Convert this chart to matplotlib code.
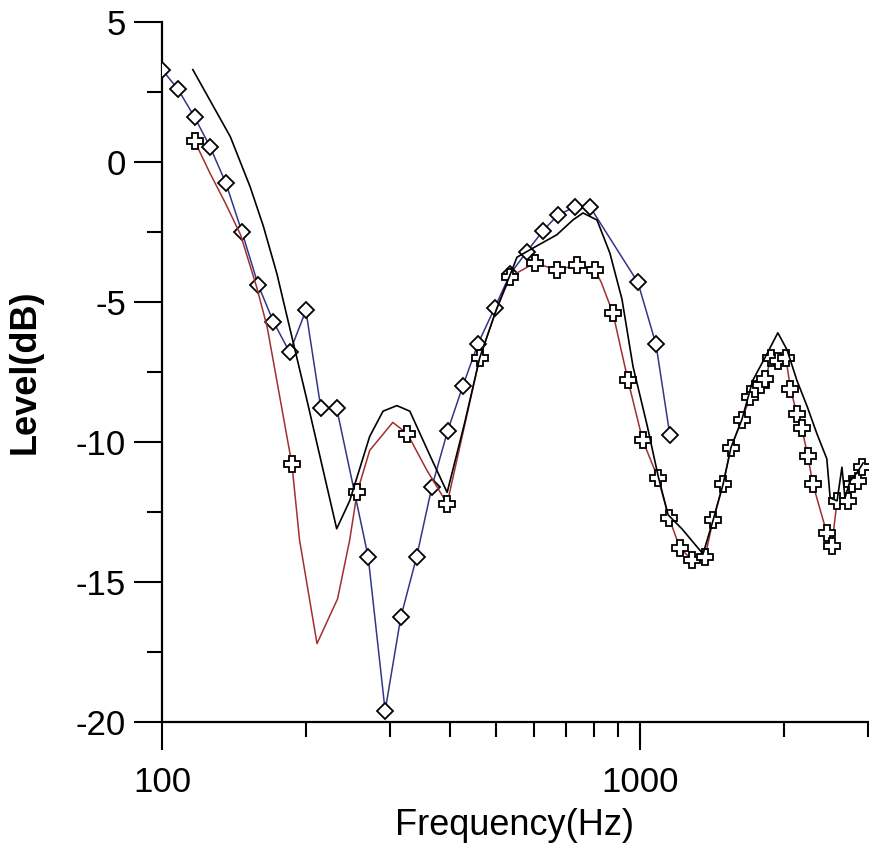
import matplotlib
matplotlib.use("Agg")
import matplotlib.pyplot as plt
from matplotlib.ticker import FixedLocator, NullFormatter

plt.rcParams['font.family'] = ['Liberation Sans', 'DejaVu Sans']

# ---- data ----
blue_f = [100, 108, 117, 126, 136, 147, 159, 171, 185, 200, 215, 232, 270, 293, 316,
          341, 367, 396, 426, 458, 497, 535, 580, 627, 673, 731, 786, 990, 1080, 1155]
blue_db = [3.3, 2.6, 1.6, 0.55, -0.75, -2.5, -4.4, -5.7, -6.8, -5.3, -8.8, -8.8, -14.1, -19.6, -16.25,
           -14.1, -11.6, -9.6, -8.0, -6.5, -5.2, -4.0, -3.2, -2.45, -1.9, -1.6, -1.6, -4.3, -6.5, -9.75]

red_f = [117, 126, 136, 146, 158, 166, 187, 194, 211, 233, 247, 256, 272, 304, 326, 358, 395,
         462, 500, 535, 603, 670, 738, 805, 830, 878, 944, 1013, 1091, 1150, 1213, 1285, 1368,
         1422, 1493, 1550, 1634, 1700, 1741, 1790, 1830, 1880, 1945, 2020, 2065, 2130, 2180,
         2245, 2300, 2460, 2520, 2585, 2725, 2780, 2860, 2913]
red_db = [0.75, -0.4, -1.5, -2.6, -4.5, -5.9, -10.8, -13.5, -17.2, -15.6, -13.5, -11.8, -10.3, -9.3, -9.7, -11.0, -12.2,
          -7.0, -5.3, -4.1, -3.6, -3.86, -3.68, -3.86, -4.3, -5.4, -7.8, -9.93, -11.3, -12.7, -13.8, -14.2, -14.1,
          -12.8, -11.5, -10.2, -9.2, -8.4, -8.1, -7.95, -7.75, -7.0, -7.1, -7.0, -8.1, -9.0, -9.5,
          -10.5, -11.5, -13.25, -13.7, -12.1, -12.1, -11.5, -11.4, -10.9]
red_marked = [1, 0, 0, 0, 0, 0, 1, 0, 0, 0, 0, 1, 0, 0, 1, 0, 1,
              1, 0, 1, 1, 1, 1, 1, 0, 1, 1, 1, 1, 1, 1, 1, 1,
              1, 1, 1, 1, 1, 1, 1, 1, 1, 1, 1, 1, 1, 1,
              1, 1, 1, 1, 1, 1, 1, 1, 1]

black_f = [116, 139, 153, 163, 174, 184, 201, 232, 247, 272, 290, 310, 330, 364, 395, 430,
           462, 500, 553, 608, 670, 724, 760, 813, 865, 917, 967, 1035, 1091, 1145, 1224, 1355,
           1422, 1493, 1550, 1634, 1722, 1830, 1943, 2030, 2130, 2240, 2345, 2460, 2500,
           2585, 2646, 2685, 2750, 2845, 2930]
black_db = [3.3, 0.9, -0.9, -2.3, -4.0, -5.75, -8.5, -13.1, -12.1, -9.8, -8.9, -8.7, -8.9, -10.5, -11.8, -9.3,
            -7.0, -5.3, -3.4, -3.0, -2.6, -2.07, -1.82, -2.07, -3.25, -4.9, -7.3, -9.4, -11.2, -12.6, -13.1, -14.0,
            -12.8, -11.5, -10.2, -9.2, -7.8, -6.96, -6.1, -6.7, -7.8, -8.75, -9.7, -10.6, -12.0,
            -12.1, -10.9, -12.0, -11.4, -11.1, -10.75]

x_major = [100, 1000]
x_major_labels = ['100', '1000']
x_minor = [200, 300, 400, 500, 600, 700, 800, 900, 2000, 3000]
y_major = [-20, -15, -10, -5, 0, 5]
y_minor = [-17.5, -12.5, -7.5, -2.5, 2.5]

# ---- figure ----
W, H = 870, 846
fig = plt.figure(figsize=(W / 100, H / 100), dpi=100)
ax = fig.add_axes([162 / W, 1 - 722 / H, (868 - 162) / W, (722 - 22) / H])

ax.plot(blue_f, blue_db, color='#33358a', lw=1.1, marker='D', ms=8,
        mfc='white', mec='black', mew=1.3, zorder=3)
mk = [i for i, m in enumerate(red_marked) if m]
ax.plot(red_f, red_db, color='#a0302f', lw=1.1, marker='P', ms=11,
        mfc='white', mec='black', mew=1.3, markevery=mk, zorder=3)
ax.plot(black_f, black_db, color='black', lw=1.2, zorder=4)

ax.set_xscale('log')
ax.set_xlim(100, 3000)
ax.set_ylim(-20, 5)

ax.xaxis.set_major_locator(FixedLocator(x_major))
ax.set_xticks(x_major)
ax.set_xticklabels(x_major_labels)
ax.xaxis.set_minor_locator(FixedLocator(x_minor))
ax.xaxis.set_minor_formatter(NullFormatter())
ax.set_yticks(y_major)
ax.set_yticklabels([str(v) for v in y_major])
ax.yaxis.set_minor_locator(FixedLocator(y_minor))

for s in ['top', 'right']:
    ax.spines[s].set_visible(False)
for s in ['left', 'bottom']:
    ax.spines[s].set_linewidth(1.6)
    ax.spines[s].set_color('black')

ax.tick_params(which='major', direction='out', length=20, width=1.5, labelsize=25, pad=6, colors='black')
ax.tick_params(which='minor', direction='out', length=11, width=1.5)
ax.tick_params(axis='x', which='major', pad=12)

ax.set_xlabel('Frequency(Hz)', fontsize=26, labelpad=6)
ax.set_ylabel('Level(dB)', fontsize=26, fontweight='bold', labelpad=24)

fig.savefig('out.png', dpi=100)
